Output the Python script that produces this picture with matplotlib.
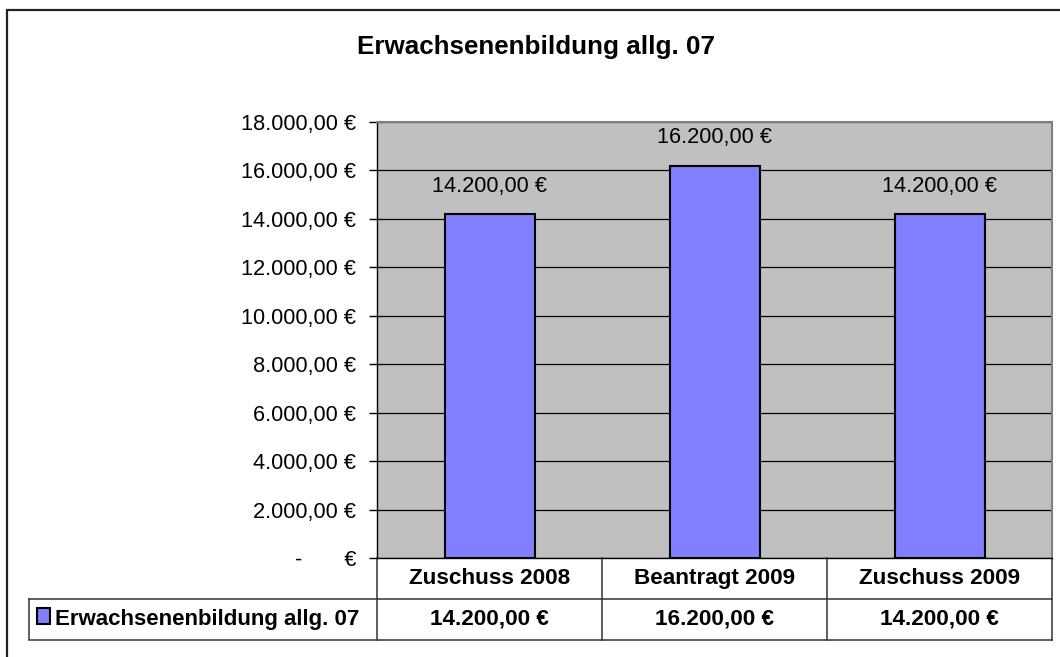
import matplotlib
matplotlib.use('Agg')
import matplotlib.pyplot as plt
from matplotlib.patches import Rectangle
from matplotlib.lines import Line2D

# chart data
title = 'Erwachsenenbildung allg. 07'
series_name = 'Erwachsenenbildung allg. 07'
categories = ['Zuschuss 2008', 'Beantragt 2009', 'Zuschuss 2009']
values = [14200, 16200, 14200]
yticks = [0, 2000, 4000, 6000, 8000, 10000, 12000, 14000, 16000, 18000]

bar_color = '#8080FF'
plot_bg = '#C0C0C0'


def euro(v):
    # excel accounting style, german separators
    if v == 0:
        return '-       €'
    s = f'{v:,.2f}'.replace(',', 'X').replace('.', ',').replace('X', '.')
    return s + ' €'


plt.rcParams['font.family'] = ['Liberation Sans', 'DejaVu Sans']

W, H = 1060, 657
fig = plt.figure(figsize=(W / 100, H / 100), dpi=100)


def fx(px):
    return px / W


def fy(py):
    return 1 - py / H


# outer chart border (right/bottom edges fall outside the picture)
fig.patches.append(Rectangle((fx(7), fy(700)), fx(1100) - fx(7), fy(10) - fy(700),
                             transform=fig.transFigure, fill=False,
                             edgecolor='#222222', linewidth=1.6))

fig.text(fx(536), fy(47), title, ha='center', va='center',
         fontsize=18.7, fontweight='bold')

ax = fig.add_axes([fx(377), fy(558), fx(1052) - fx(377), fy(122) - fy(558)])
ax.set_facecolor(plot_bg)
xpos = list(range(len(categories)))
ax.bar(xpos, values, width=0.4, color=bar_color, edgecolor='black',
       linewidth=1.5, zorder=3)
ax.set_xlim(-0.5, len(categories) - 0.5)
ax.set_ylim(0, 18000)
ax.set_yticks(yticks)
ax.set_yticklabels([euro(v) for v in yticks], fontsize=15.7)
ax.yaxis.grid(True, color='black', linewidth=0.9)
ax.set_axisbelow(True)
ax.set_xticks([])
ax.tick_params(axis='y', length=6, width=1, pad=9, color='black')
for sp in ax.spines.values():
    sp.set_color('#808080')
    sp.set_linewidth(1.5)
ax.spines['left'].set_color('black')
ax.spines['left'].set_linewidth(1)
ax.spines['bottom'].set_color('black')
ax.spines['bottom'].set_linewidth(1)

for i, v in zip(xpos, values):
    ax.annotate(euro(v), (i, v), xytext=(0, 28), textcoords='offset pixels',
                ha='center', va='center', fontsize=15.7)

# data table below the plot
row = 41 / 436
tr = ax.get_xaxis_transform()
line_kw = dict(color='#333333', linewidth=1.1, clip_on=False)
for b in range(len(categories) + 1):
    ax.add_line(Line2D([b - 0.5, b - 0.5], [0, -2 * row], transform=tr, **line_kw))
for y in (-row, -2 * row):
    fig.add_artist(Line2D([fx(29), fx(1052)], [fy(558 + (-y) * 436)] * 2,
                          transform=fig.transFigure, color='#333333', linewidth=1.1))
fig.add_artist(Line2D([fx(29), fx(29)], [fy(599), fy(639)],
                      transform=fig.transFigure, color='#333333', linewidth=1.1))

for i, (c, v) in enumerate(zip(categories, values)):
    ax.text(i, -row / 2, c, transform=tr, ha='center', va='center',
            fontsize=16.2, fontweight='bold', clip_on=False)
    ax.text(i, -1.5 * row, euro(v), transform=tr, ha='center', va='center',
            fontsize=16.2, fontweight='bold', clip_on=False)

# legend key inside the table
fig.patches.append(Rectangle((fx(37), fy(624)), fx(50) - fx(37), fy(608) - fy(624),
                             transform=fig.transFigure, facecolor=bar_color,
                             edgecolor='black', linewidth=1.5))
fig.text(fx(55), fy(619), series_name, ha='left', va='center',
         fontsize=16, fontweight='bold')

fig.savefig('out.png', dpi=100)
